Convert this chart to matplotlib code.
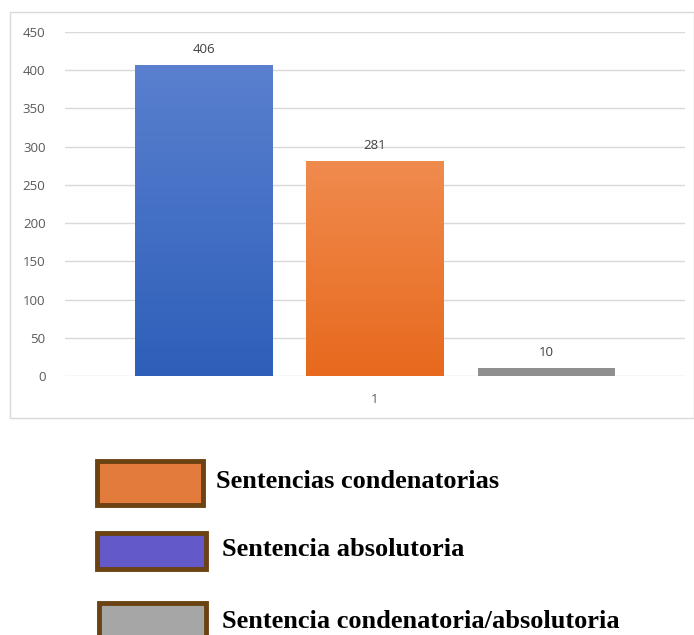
import numpy as np
import matplotlib
matplotlib.use('Agg')
import matplotlib.pyplot as plt
from matplotlib.patches import Rectangle
from matplotlib.colors import LinearSegmentedColormap

# datos
categoria = ['1']
series = ['Sentencia absolutoria', 'Sentencias condenatorias', 'Sentencia condenatoria/absolutoria']
valores = [406, 281, 10]
colores_top = ['#5a80cf', '#f08b4e', '#8f8f8f']
colores_bot = ['#2d5fb9', '#e7691d', '#8f8f8f']

# leyenda (orden y colores como en la imagen)
ley_textos = ['Sentencias condenatorias', 'Sentencia absolutoria', 'Sentencia condenatoria/absolutoria']
ley_colores = ['#e37b3d', '#6459c8', '#a6a6a6']

W, H = 694, 635
fig = plt.figure(figsize=(W / 100, H / 100), dpi=100)

# marco del grafico
fig.patches.append(Rectangle((10 / W, 1 - 418 / H), 684 / W, 406 / H, transform=fig.transFigure,
                             fill=False, edgecolor='#d9d9d9', linewidth=1))

ax = fig.add_axes([65 / W, 1 - 376 / H, 620 / W, 344 / H])

ancho = 0.221
paso = 0.276
for i, v in enumerate(valores):
    x0 = (i - 1) * paso
    if colores_top[i] != colores_bot[i]:
        grad = np.linspace(0, 1, 256).reshape(-1, 1)
        cmap = LinearSegmentedColormap.from_list('g%d' % i, [colores_bot[i], colores_top[i]])
        ax.imshow(grad, extent=[x0 - ancho / 2, x0 + ancho / 2, 0, v], origin='lower',
                  aspect='auto', cmap=cmap, zorder=3)
    else:
        ax.bar(x0, v, width=ancho, color=colores_top[i], zorder=3)
    ax.text(x0, v + 12, str(v), ha='center', va='bottom', fontsize=9.5, color='#404040',
            family='Open Sans')

ax.set_xlim(-0.5, 0.5)
ax.set_ylim(0, 450)
ax.set_yticks(np.arange(0, 451, 50))
ax.set_xticks([0])
ax.set_xticklabels(categoria)
ax.grid(axis='y', color='#d9d9d9', linewidth=1, zorder=0)
for s in ax.spines.values():
    s.set_visible(False)
ax.tick_params(length=0, labelsize=9.5, labelcolor='#595959', pad=14)
ax.tick_params(axis='x', pad=12)
for lab in ax.get_xticklabels() + ax.get_yticklabels():
    lab.set_family('Open Sans')

# leyenda manual
cajas = [(97, 461, 106, 44), (97, 533, 109, 36), (99, 603, 107, 40)]
txt_x = [216, 222, 222]
for (x, y, w, h), c, t, tx in zip(cajas, ley_colores, ley_textos, txt_x):
    fig.patches.append(Rectangle((x / W, 1 - (y + h) / H), w / W, h / H, transform=fig.transFigure,
                                 facecolor=c, edgecolor='#6b4212', linewidth=3.5))
    fig.text(tx / W, 1 - (y + h / 2 - 1) / H, t, ha='left', va='center', fontsize=19,
             fontweight='bold', family='Liberation Serif', color='black')

fig.savefig('out.png', dpi=100)
